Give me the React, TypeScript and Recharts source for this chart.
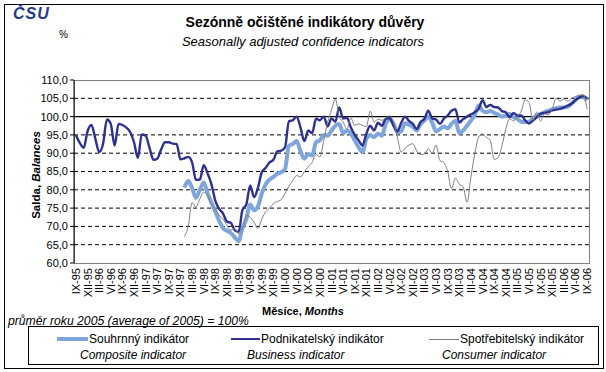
import React from 'react';
import { LineChart, Line, XAxis, YAxis, ReferenceLine } from 'recharts';

const FONT = '"Liberation Sans", Arial, sans-serif';

// months run from IX-95 to IX-06
const romanMonths = ['I', 'II', 'III', 'IV', 'V', 'VI', 'VII', 'VIII', 'IX', 'X', 'XI', 'XII'];
const firstYear = 1995;
const firstMonth = 8; // IX
const monthCount = 133;

// Podnikatelský indikátor (business), from IX-95
const business = [
  95.0, 92.8, 91.5, 96.0, 97.7, 94.0, 90.3, 92.5, 99.2, 98.0, 92.1, 98.0,
  97.7, 97.0, 95.8, 93.0, 88.7, 95.1, 94.8, 91.5, 88.2, 88.5, 91.0, 93.0,
  93.0, 92.6, 92.5, 88.3, 88.6, 89.0, 87.5, 82.7, 82.8, 86.7, 84.5, 81.5,
  77.0, 74.8, 73.5, 71.3, 71.0, 69.0, 68.5, 74.5, 76.0, 81.2, 78.0, 80.5,
  84.8, 86.0, 87.5, 88.2, 90.5, 90.7, 91.6, 98.7, 99.0, 100.0, 97.0, 93.3,
  96.2, 95.5, 99.4, 99.0, 100.0, 97.3, 99.5, 98.6, 102.5, 99.5, 99.7, 97.0,
  95.0, 93.5, 92.1, 95.3, 97.5, 96.2, 98.3, 97.5, 99.4, 99.6, 97.5, 95.9,
  98.3, 100.0, 98.8, 98.0, 96.6, 98.5, 99.4, 101.6, 99.5, 99.2, 98.0, 99.4,
  100.3, 101.6, 102.0, 98.4, 99.3, 100.0, 100.6, 101.2, 102.1, 104.5, 102.6, 103.2,
  102.6, 102.5, 101.5, 101.2, 99.8, 101.0, 100.3, 100.3, 99.0, 98.1, 98.9, 99.8,
  100.8, 101.0, 101.2, 101.7, 101.9, 102.1, 102.5, 103.0, 103.5, 104.5, 105.2, 105.6,
  105.0,
];

// Souhrnný indikátor (composite), from I-98
const compositeStart = 28;
const composite = [
  80.6, 82.4, 80.5, 77.8, 80.0, 82.0, 79.0, 76.5, 74.0, 71.5, 69.5, 68.8,
  68.2, 67.0, 66.0, 69.5, 72.0, 76.0, 74.4, 75.5, 79.0, 81.5, 82.8, 83.5,
  84.4, 84.8, 85.7, 92.0, 92.5, 93.3, 90.5, 88.5, 89.8, 89.4, 93.0, 93.5,
  95.0, 94.8, 96.2, 97.5, 98.0, 95.5, 96.2, 95.3, 93.5, 91.6, 90.3, 93.9,
  95.0, 94.4, 95.3, 94.8, 98.0, 99.2, 98.2, 95.7, 96.0, 98.2, 97.8, 97.2,
  96.2, 98.0, 98.9, 100.0, 98.3, 96.0, 96.6, 97.3, 96.8, 98.0, 98.9, 95.5,
  96.2, 97.5, 98.9, 100.5, 103.0, 101.6, 101.2, 101.5, 101.0, 100.6, 100.0, 100.3,
  100.7, 99.8, 99.4, 98.6, 98.5, 98.6, 99.5, 100.3, 100.7, 101.2, 101.6, 102.0,
  102.3, 102.5, 102.5, 102.7, 103.6, 104.5, 105.5, 105.3, 104.4,
];

// Spotřebitelský indikátor (consumer), from I-98
const consumerStart = 28;
const consumer = [
  67.2, 70.0, 76.5, 75.3, 77.5, 79.3, 78.5, 76.0, 74.8, 73.0, 72.0, 70.2,
  69.0, 69.4, 68.0, 69.4, 73.0, 72.5, 71.2, 69.4, 72.0, 74.0, 75.0, 76.2,
  76.8, 77.3, 79.0, 81.0, 82.5, 83.9, 83.5, 85.0, 86.3, 87.5, 89.6, 89.0,
  93.5, 98.5, 101.8, 104.8, 100.0, 98.5, 96.6, 99.6, 97.6, 98.0, 97.6, 97.2,
  101.5, 98.5, 99.3, 99.0, 99.6, 100.2, 98.5, 94.4, 90.3, 91.4, 92.2, 92.6,
  90.6, 89.6, 89.8, 91.2, 90.0, 92.2, 88.0, 87.5, 85.0, 80.3, 83.2, 81.5,
  80.8, 76.6, 83.5, 89.8, 94.4, 95.3, 94.3, 93.5, 88.3, 88.8, 92.0, 96.5,
  99.4, 98.8, 100.0, 101.5, 104.6, 103.9, 99.0, 101.2, 98.8, 100.8, 100.5, 102.1,
  105.0, 104.2, 104.8, 104.2, 105.0, 105.5, 105.8, 106.0, 102.1,
];

const yTicks = [60, 65, 70, 75, 80, 85, 90, 95, 100, 105, 110];
const dashedLevels = [65, 70, 75, 80, 85, 90, 95, 105];

const seriesNames = {
  composite: ['Souhrnný indikátor', 'Composite indicator'],
  business: ['Podnikatelský indikátor', 'Business indicator'],
  consumer: ['Spotřebitelský indikátor', 'Consumer indicator'],
};

const COLORS = {
  composite: '#7EA6DC',
  business: '#2E3192',
  consumer: '#808080',
};

const data = Array.from({ length: monthCount }, (_, i) => {
  const m = (firstMonth + i) % 12;
  const y = firstYear + Math.floor((firstMonth + i) / 12);
  return {
    month: `${romanMonths[m]}-${String(y % 100).padStart(2, '0')}`,
    business: business[i] ?? null,
    composite: i >= compositeStart ? composite[i - compositeStart] ?? null : null,
    consumer: i >= consumerStart ? consumer[i - consumerStart] ?? null : null,
  };
});

const XTick = (props: any) => {
  const { x, y, payload } = props;
  return (
    <text
      x={x}
      y={y}
      transform={`rotate(-90, ${x}, ${y})`}
      textAnchor="end"
      dominantBaseline="central"
      fontSize={11}
      fontFamily={FONT}
      fill="#000"
    >
      {payload.value}
    </text>
  );
};

const abs = (style: React.CSSProperties): React.CSSProperties => ({ position: 'absolute', ...style });

function LegendItem({ left, lineLeft, lineWidth, color, width, names, italicLeft }: any) {
  return (
    <>
      <div style={abs({ left: lineLeft, top: 339 - width / 2, width: lineWidth, height: width, background: color })} />
      <div style={abs({ left, top: 332, fontSize: 12, lineHeight: '14px', whiteSpace: 'nowrap' })}>{names[0]}</div>
      <div style={abs({ left: italicLeft, top: 348, fontSize: 12, lineHeight: '14px', fontStyle: 'italic', whiteSpace: 'nowrap' })}>{names[1]}</div>
    </>
  );
}

export default function App() {
  return (
    <div style={{ position: 'relative', width: 606, height: 372, background: '#fff', fontFamily: FONT, color: '#000' }}>
      <style>{'body{margin:0}'}</style>
      <div style={abs({ left: 4, top: 4, width: 600, height: 365, border: '1px solid #000', boxSizing: 'border-box' })} />
      <div style={abs({ left: 74, top: 80, width: 516, height: 184, border: '1px solid #808080', boxSizing: 'border-box' })} />

      <div style={abs({ left: 13, top: 5, fontSize: 16, fontWeight: 900, fontStyle: 'italic', color: '#1F3C8C', letterSpacing: 1 })}>ČSU</div>
      <div style={abs({ left: 59, top: 29, fontSize: 10 })}>%</div>
      <div style={abs({ left: 0, top: 14, width: 610, textAlign: 'center', fontSize: 14, fontWeight: 'bold' })}>
        Sezónně očištěné indikátory důvěry
      </div>
      <div style={abs({ left: 0, top: 34, width: 606, textAlign: 'center', fontSize: 13, fontStyle: 'italic' })}>
        Seasonally adjusted confidence indicators
      </div>

      <div style={abs({ left: 36, top: 175, transform: 'translate(-50%, -50%) rotate(-90deg)', fontSize: 11.5, fontWeight: 'bold', whiteSpace: 'nowrap' })}>
        Salda, <i>Balances</i>
      </div>

      <LineChart
        width={606}
        height={372}
        data={data}
        margin={{ top: 80, right: 17, bottom: 69, left: 30 }}
        style={{ position: 'absolute', left: 0, top: 0 }}
      >
        <XAxis
          dataKey="month"
          scale="band"
          interval={2}
          tick={<XTick />}
          tickLine={false}
          tickSize={0}
          tickMargin={5}
          axisLine={false}
          height={40}
        />
        <YAxis
          domain={[60, 110]}
          ticks={yTicks}
          width={44}
          tickFormatter={(v: number) => v.toFixed(1).replace('.', ',')}
          tick={{ fontSize: 11, fill: '#000', fontFamily: FONT }}
          tickLine={{ stroke: '#000' }}
          tickSize={4}
          tickMargin={2}
          axisLine={{ stroke: '#000' }}
          interval={0}
        />
        {dashedLevels.map((v) => (
          <ReferenceLine key={v} y={v} stroke="#000" strokeDasharray="4 3" />
        ))}
        <ReferenceLine y={100} stroke="#000" strokeWidth={1.3} />
        <Line type="monotone" dataKey="composite" stroke={COLORS.composite} strokeWidth={4} dot={false} isAnimationActive={false} />
        <Line type="monotone" dataKey="business" stroke={COLORS.business} strokeWidth={2.4} dot={false} isAnimationActive={false} />
        <Line type="monotone" dataKey="consumer" stroke={COLORS.consumer} strokeWidth={1} dot={false} isAnimationActive={false} />
      </LineChart>

      <div style={abs({ left: 0, top: 305, width: 606, textAlign: 'center', fontSize: 11, fontWeight: 'bold' })}>
        Měsíce, <i>Months</i>
      </div>
      <div style={abs({ left: 8, top: 314, fontSize: 12.2, fontStyle: 'italic', whiteSpace: 'nowrap' })}>
        průměr roku 2005 (average of 2005) = 100%
      </div>

      <div style={abs({ left: 28, top: 326, width: 571, height: 39, border: '1px solid #000', boxSizing: 'border-box' })} />
      <LegendItem left={89} lineLeft={57} lineWidth={31} color={COLORS.composite} width={4} names={seriesNames.composite} italicLeft={80} />
      <LegendItem left={261} lineLeft={231} lineWidth={29} color={COLORS.business} width={2} names={seriesNames.business} italicLeft={247} />
      <LegendItem left={460} lineLeft={429} lineWidth={30} color={COLORS.consumer} width={1} names={seriesNames.consumer} italicLeft={442} />
    </div>
  );
}
